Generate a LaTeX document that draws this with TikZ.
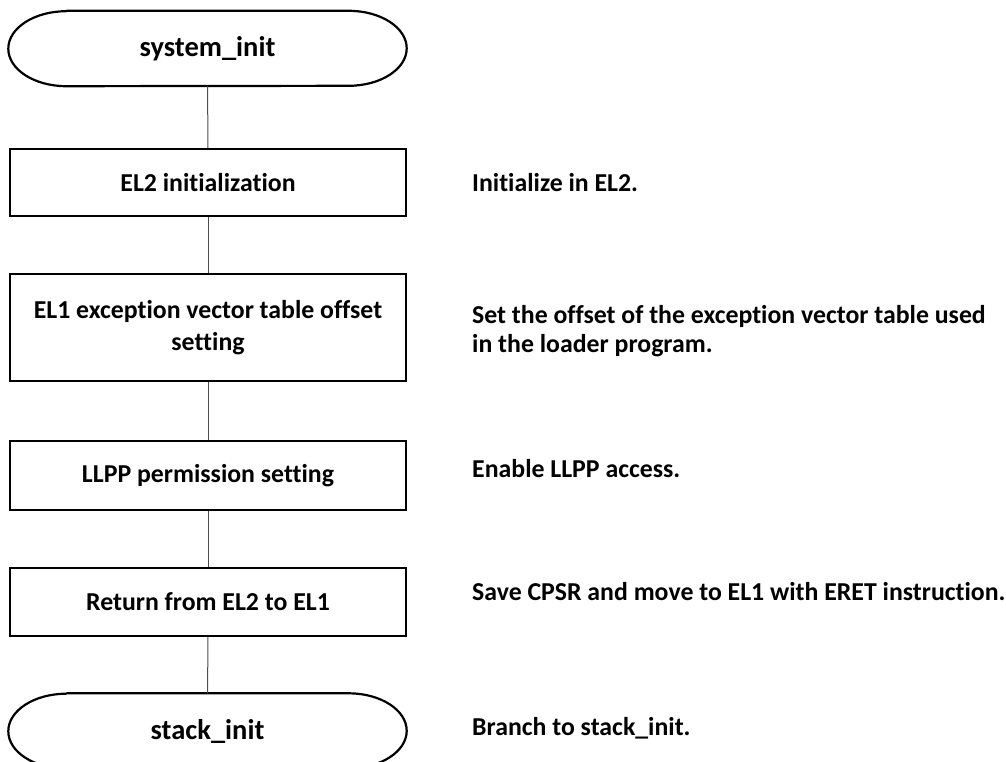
\documentclass[tikz,border=0pt]{standalone}
\usepackage{fontspec}
\setmainfont{Carlito}[Ligatures={CommonOff,ContextualOff}]
\usetikzlibrary{positioning}
\tikzset{terminal/.style={minimum width=398pt,minimum height=75pt,inner sep=0pt,font=\fontsize{28.5}{33}\selectfont\bfseries},
         process/.style={draw,line width=2.2pt,minimum width=396pt,align=center,font=\fontsize{25.8}{31.5}\selectfont\bfseries},
         remark/.style={anchor=west,align=left,inner sep=0pt,font=\fontsize{25.8}{29.5}\selectfont\bfseries},
         flow/.style={line width=1pt,draw=black!70}}

\begin{document}
\begin{tikzpicture}[x=1pt,y=1pt]
        \useasboundingbox (0,0) rectangle (1006,-761);

        \node[terminal](t1)at(207.5,-48.5){system\_init};
        \node[process, minimum height=67pt](b1)at(208,-182.5){EL2 initialization};
        \node[process, minimum height=107pt](b2)at(208,-327.5){EL1 exception vector table offset\\setting};
        \node[process, minimum height=69pt](b3)at(208,-475.5){LLPP permission setting};
        \node[process, minimum height=68pt](b4)at(208,-602){Return from EL2 to EL1};
        \node[terminal](t2)at(207.5,-731){stack\_init};

        % terminal outlines, elliptic ends
        \foreach \t in {t1,t2}
            \draw[line width=2.2pt]([xshift=58pt]\t.north west) -- ([xshift=-58pt]\t.north east)
                arc[start angle=90,end angle=-90,x radius=58pt,y radius=37.5pt]
                -- ([xshift=58pt]\t.south west)
                arc[start angle=270,end angle=90,x radius=58pt,y radius=37.5pt];

        \draw[flow](t1)--(b1);
        \draw[flow](b1)--(b2);
        \draw[flow](b2)--(b3);
        \draw[flow](b3)--(b4);
        \draw[flow](b4)--(t2);

        \node[remark](n1)at(472,-183){Initialize in EL2.};
        \node[remark](n2)at(472,-331){Set the offset of the exception vector table used\\in the loader program.};
        \node[remark](n3)at(472,-469){Enable LLPP access.};
        \node[remark](n4)at(472,-592){Save CPSR and move to EL1 with ERET instruction.};
        \node[remark](n5)at(472,-728){Branch to stack\_init.};
    \end{tikzpicture}
\end{document}
